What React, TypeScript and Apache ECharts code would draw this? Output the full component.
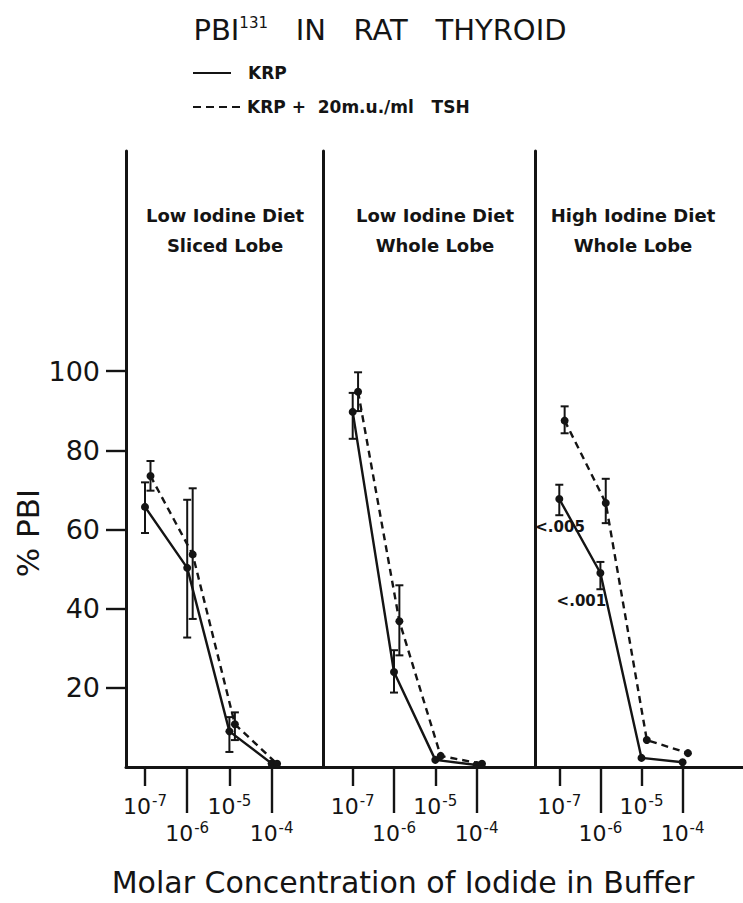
import React, { useEffect, useRef } from "react";
import * as echarts from "echarts";

// ---------- data ----------
const CONC_EXPONENTS = [-7, -6, -5, -4]; // log10 molar iodide
const UPPER_ROW_TICKS = [-7, -5];
const LOWER_ROW_TICKS = [-6, -4];
const Y_TICKS = [20, 40, 60, 80, 100];

const PANEL_TITLES = [
  ["Low Iodine Diet", "Sliced Lobe"],
  ["Low Iodine Diet", "Whole Lobe"],
  ["High Iodine Diet", "Whole Lobe"],
];

// Panel 1: low iodine diet, sliced lobe
const SLICED_LOW_KRP = [65.7, 50.3, 9.0, 0.9];
const SLICED_LOW_KRP_LO = [59.1, 32.7, 3.8, null];
const SLICED_LOW_KRP_HI = [71.9, 67.5, 12.6, null];
const SLICED_LOW_TSH = [73.5, 53.7, 10.8, 0.8];
const SLICED_LOW_TSH_LO = [69.8, 37.4, 6.8, null];
const SLICED_LOW_TSH_HI = [77.3, 70.4, 13.8, null];

// Panel 2: low iodine diet, whole lobe
const WHOLE_LOW_KRP = [89.7, 24.0, 1.8, 0.5];
const WHOLE_LOW_KRP_LO = [82.9, 18.8, null, null];
const WHOLE_LOW_KRP_HI = [94.5, 29.5, null, null];
const WHOLE_LOW_TSH = [94.8, 36.8, 2.8, 0.8];
const WHOLE_LOW_TSH_LO = [89.9, 28.2, null, null];
const WHOLE_LOW_TSH_HI = [99.7, 45.9, null, null];

// Panel 3: high iodine diet, whole lobe
const WHOLE_HIGH_KRP = [67.7, 49.0, 2.3, 1.2];
const WHOLE_HIGH_KRP_LO = [63.6, 44.9, null, null];
const WHOLE_HIGH_KRP_HI = [71.3, 51.8, null, null];
const WHOLE_HIGH_TSH = [87.5, 66.7, 6.8, 3.5];
const WHOLE_HIGH_TSH_LO = [84.3, 61.6, null, null];
const WHOLE_HIGH_TSH_HI = [91.1, 72.8, null, null];

const P_VALUE_NOTES = [
  { text: "<.005", at: [-6.97, 60.6] },
  { text: "<.001", at: [-6.45, 41.9] },
];

// ---------- layout / style ----------
const FONT = "DejaVu Sans";
const INK = "#141414";
const W = 743;
const H = 903;
const PANEL_LEFT = [126, 323, 535];
const TICK7_PX = [145, 352.7, 559.3];
const PX_PER_DECADE = [42.2, 41.3, 41.1];
const PLOT_TOP = 151;
const PLOT_HEIGHT = 616;
const Y_MAX = 155.6;
const TSH_DODGE = 0.13;

const PANELS = [
  {
    krp: SLICED_LOW_KRP, krpLo: SLICED_LOW_KRP_LO, krpHi: SLICED_LOW_KRP_HI,
    tsh: SLICED_LOW_TSH, tshLo: SLICED_LOW_TSH_LO, tshHi: SLICED_LOW_TSH_HI,
  },
  {
    krp: WHOLE_LOW_KRP, krpLo: WHOLE_LOW_KRP_LO, krpHi: WHOLE_LOW_KRP_HI,
    tsh: WHOLE_LOW_TSH, tshLo: WHOLE_LOW_TSH_LO, tshHi: WHOLE_LOW_TSH_HI,
  },
  {
    krp: WHOLE_HIGH_KRP, krpLo: WHOLE_HIGH_KRP_LO, krpHi: WHOLE_HIGH_KRP_HI,
    tsh: WHOLE_HIGH_TSH, tshLo: WHOLE_HIGH_TSH_LO, tshHi: WHOLE_HIGH_TSH_HI,
  },
];

const tickRich = {
  b: { fontSize: 22, fontFamily: FONT, color: INK, lineHeight: 26 },
  s: { fontSize: 15, fontFamily: FONT, color: INK, verticalAlign: "top", padding: [0, 0, 0, 1] },
};

function errorBarItem(params: any, api: any) {
  const x = api.value(0);
  const top = api.coord([x, api.value(2)]);
  const bot = api.coord([x, api.value(1)]);
  const cw = 4;
  const st = { stroke: INK, lineWidth: 2 };
  return {
    type: "group",
    children: [
      { type: "line", shape: { x1: top[0], y1: top[1], x2: bot[0], y2: bot[1] }, style: st },
      { type: "line", shape: { x1: top[0] - cw, y1: top[1], x2: top[0] + cw, y2: top[1] }, style: st },
      { type: "line", shape: { x1: bot[0] - cw, y1: bot[1], x2: bot[0] + cw, y2: bot[1] }, style: st },
    ],
  };
}

function buildOption() {
  const grids: any[] = [];
  const xAxes: any[] = [];
  const yAxes: any[] = [];
  const series: any[] = [];

  PANELS.forEach((p, i) => {
    const left = PANEL_LEFT[i];
    const right = i < 2 ? PANEL_LEFT[i + 1] : W;
    const width = right - left;
    const xmin = -7 + (left - TICK7_PX[i]) / PX_PER_DECADE[i];
    const xmax = xmin + width / PX_PER_DECADE[i];
    grids.push({ left, top: PLOT_TOP, width, height: PLOT_HEIGHT, containLabel: false });

    const baseX = {
      type: "value",
      gridIndex: i,
      min: xmin,
      max: xmax,
      position: "bottom",
      offset: 0,
      splitLine: { show: false },
    };
    xAxes.push({
      ...baseX,
      axisLine: { show: true, onZero: false, lineStyle: { color: INK, width: 3 } },
      axisTick: { show: true, customValues: UPPER_ROW_TICKS, length: 19, lineStyle: { color: INK, width: 2.4 } },
      axisLabel: {
        show: true,
        customValues: UPPER_ROW_TICKS,
        margin: 26,
        formatter: (v: number) => `{b|10}{s|${v}}`,
        rich: tickRich,
      },
    });
    xAxes.push({
      ...baseX,
      axisLine: { show: false },
      axisTick: { show: true, customValues: LOWER_ROW_TICKS, length: 46, lineStyle: { color: INK, width: 2.4 } },
      axisLabel: {
        show: true,
        customValues: LOWER_ROW_TICKS,
        margin: 53,
        formatter: (v: number) => `{b|10}{s|${v}}`,
        rich: tickRich,
      },
    });

    yAxes.push({
      type: "value",
      gridIndex: i,
      min: 0,
      max: Y_MAX,
      splitLine: { show: false },
      axisLine: { show: true, onZero: false, lineStyle: { color: INK, width: 3 } },
      axisTick: i === 0
        ? { show: true, customValues: Y_TICKS, length: 20, lineStyle: { color: INK, width: 2.4 } }
        : { show: false },
      axisLabel: i === 0
        ? { show: true, customValues: Y_TICKS, margin: 26, fontSize: 27, fontFamily: FONT, color: INK }
        : { show: false },
    });

    const xi = i * 2;
    const mk = (vals: number[], dodge: number) =>
      CONC_EXPONENTS.map((e, k) => [e + dodge, vals[k]]);
    const mkErr = (lo: (number | null)[], hi: (number | null)[], dodge: number) =>
      CONC_EXPONENTS.map((e, k) => (lo[k] == null ? null : [e + dodge, lo[k], hi[k]])).filter(Boolean);

    series.push({
      name: "KRP",
      type: "line",
      xAxisIndex: xi,
      yAxisIndex: i,
      data: mk(p.krp, 0),
      symbol: "circle",
      symbolSize: 8,
      itemStyle: { color: INK },
      lineStyle: { color: INK, width: 2.4, type: "solid" },
      z: 3,
    });
    series.push({
      name: "KRP + 20 m.u./ml TSH",
      type: "line",
      xAxisIndex: xi,
      yAxisIndex: i,
      data: mk(p.tsh, TSH_DODGE),
      symbol: "circle",
      symbolSize: 8,
      itemStyle: { color: INK },
      lineStyle: { color: INK, width: 2.4, type: [7, 5] },
      z: 3,
    });
    series.push({
      type: "custom",
      xAxisIndex: xi,
      yAxisIndex: i,
      data: mkErr(p.krpLo, p.krpHi, 0),
      encode: { x: 0, y: [1, 2] },
      renderItem: errorBarItem,
      z: 2,
    });
    series.push({
      type: "custom",
      xAxisIndex: xi,
      yAxisIndex: i,
      data: mkErr(p.tshLo, p.tshHi, TSH_DODGE),
      encode: { x: 0, y: [1, 2] },
      renderItem: errorBarItem,
      z: 2,
    });
  });

  series.push({
    type: "scatter",
    xAxisIndex: 4,
    yAxisIndex: 2,
    symbolSize: 1,
    itemStyle: { color: "rgba(0,0,0,0)", opacity: 1 },
    data: P_VALUE_NOTES.map((n) => ({ name: n.text, value: n.at })),
    label: {
      show: true,
      position: [0, 0],
      align: "center",
      verticalAlign: "middle",
      formatter: "{b}",
      fontSize: 15,
      fontWeight: "bold",
      fontFamily: FONT,
      color: INK,
      opacity: 1,
    },
    z: 4,
  });

  const panelTitleX = [225, 435, 633];
  const graphics: any[] = [
    {
      type: "text",
      x: 380,
      y: 30,
      style: {
        text: "{a|PBI}{s|131}{a|   IN   RAT   THYROID}",
        align: "center",
        verticalAlign: "middle",
        rich: {
          a: { fontSize: 29, fontFamily: FONT, fill: INK },
          s: { fontSize: 15, fontFamily: FONT, fill: INK, verticalAlign: "top" },
        },
      },
    },
    { type: "line", shape: { x1: 193, y1: 73, x2: 231, y2: 73 }, style: { stroke: INK, lineWidth: 2.2 } },
    {
      type: "text", x: 248, y: 73,
      style: { text: "KRP", fontSize: 17, fontWeight: "bold", fontFamily: FONT, fill: INK, verticalAlign: "middle" },
    },
    { type: "line", shape: { x1: 193, y1: 107, x2: 243, y2: 107 }, style: { stroke: INK, lineWidth: 2.2, lineDash: [8, 5] } },
    {
      type: "text", x: 247, y: 107,
      style: { text: "KRP +  20m.u./ml   TSH", fontSize: 17, fontWeight: "bold", fontFamily: FONT, fill: INK, verticalAlign: "middle" },
    },
    {
      type: "text", x: 28, y: 533, rotation: Math.PI / 2,
      style: { text: "% PBI", fontSize: 31, fontFamily: FONT, fill: INK, align: "center", verticalAlign: "middle" },
    },
    {
      type: "text", x: 403, y: 882,
      style: { text: "Molar Concentration of Iodide in Buffer", fontSize: 30, fontFamily: FONT, fill: INK, align: "center", verticalAlign: "middle" },
    },
  ];
  PANEL_TITLES.forEach((t, i) => {
    graphics.push({
      type: "text", x: panelTitleX[i], y: 215,
      style: { text: t[0], fontSize: 18, fontWeight: "bold", fontFamily: FONT, fill: INK, align: "center", verticalAlign: "middle" },
    });
    graphics.push({
      type: "text", x: panelTitleX[i], y: 245,
      style: { text: t[1], fontSize: 18, fontWeight: "bold", fontFamily: FONT, fill: INK, align: "center", verticalAlign: "middle" },
    });
  });

  return {
    animation: false,
    backgroundColor: "#ffffff",
    textStyle: { fontFamily: FONT },
    grid: grids,
    xAxis: xAxes,
    yAxis: yAxes,
    series,
    graphic: graphics,
  };
}

export default function App() {
  const ref = useRef<HTMLDivElement>(null);
  useEffect(() => {
    const chart = echarts.init(ref.current!, null, { renderer: "svg" });
    chart.setOption(buildOption() as any);
    return () => chart.dispose();
  }, []);
  return (
    <div
      ref={ref}
      style={{ position: "fixed", left: 0, top: 0, width: W, height: H, background: "#fff" }}
    />
  );
}
